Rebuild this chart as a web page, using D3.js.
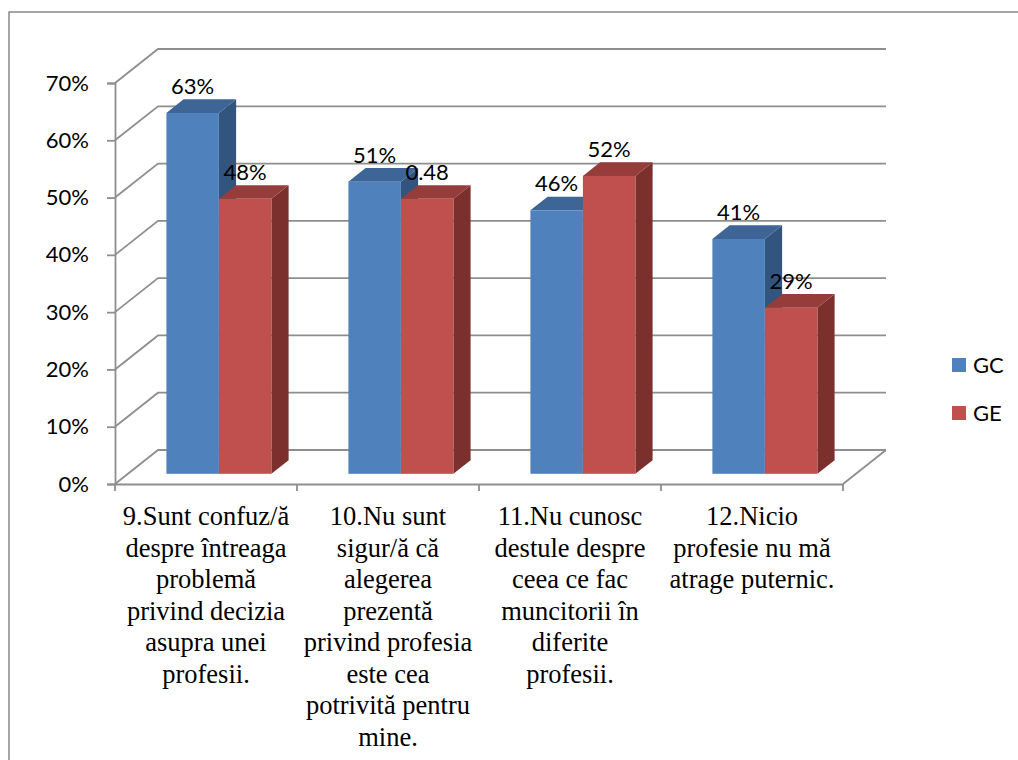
<!DOCTYPE html>
<html>
<head>
<meta charset="utf-8">
<script src="https://cdn.jsdelivr.net/npm/d3@7"></script>
<style>
  body { margin: 0; background: #fff; }
  svg text { fill: #000; }
</style>
</head>
<body>
<div id="chart"></div>
<script>
// data
const categories = ["c9", "c10", "c11", "c12"];
const categoryLines = [
  ["9.Sunt confuz/ă", "despre întreaga", "problemă", "privind decizia", "asupra unei", "profesii."],
  ["10.Nu sunt", "sigur/ă că", "alegerea", "prezentă", "privind profesia", "este cea", "potrivită pentru", "mine."],
  ["11.Nu cunosc", "destule despre", "ceea ce fac", "muncitorii în", "diferite", "profesii."],
  ["12.Nicio", "profesie nu mă", "atrage puternic."]
];
const series = ["GC", "GE"];
const gcValues = [0.63, 0.51, 0.46, 0.41];
const geValues = [0.48, 0.48, 0.52, 0.29];
const gcLabels = ["63%", "51%", "46%", "41%"];
const geLabels = ["48%", "0.48", "52%", "29%"];
const yTicks = [0, 0.1, 0.2, 0.3, 0.4, 0.5, 0.6, 0.7];

const colors = {
  GC: { front: "#4f81bd", top: "#3d6595", side: "#32557f" },
  GE: { front: "#c0504d", top: "#963d3b", side: "#7b302e" }
};

const width = 1018, height = 760;
const depth = { dx: 43, dy: -34 };       // full depth of the 3d box
const barDepth = [0.3, 0.7];             // bars sit in the middle of the depth
const sansFont = "Lato, 'Open Sans', sans-serif";
const serifFont = "'Liberation Serif', 'Times New Roman', serif";

const svg = d3.select("#chart").append("svg")
  .attr("width", width)
  .attr("height", height);

// outer frame
svg.append("rect")
  .attr("x", 9).attr("y", 12)
  .attr("width", width + 20).attr("height", height + 20)
  .attr("fill", "none").attr("stroke", "#888").attr("stroke-width", 1.5);

const x = d3.scaleBand().domain(categories).range([115, 843]).padding(0);
const xs = d3.scaleBand().domain(series).range([-52.5, 52.5]);
const y = d3.scaleLinear().domain([0, 0.7]).range([484, 83]);

const shift = (d) => [depth.dx * d, depth.dy * d];

// gridlines: left wall diagonal + back wall horizontal
const grid = svg.append("g").attr("stroke", "#8e8e8e").attr("stroke-width", 1.8).attr("fill", "none");
const x0 = x.range()[0], x1 = x.range()[1];
const [bdx, bdy] = shift(1);
yTicks.forEach(t => {
  grid.append("path")
    .attr("d", `M${x0},${y(t)} L${x0 + bdx},${y(t) + bdy} L${x1 + bdx},${y(t) + bdy}`);
});
// floor right edge
grid.append("path").attr("d", `M${x1},${y(0)} L${x1 + bdx},${y(0) + bdy}`);

// y axis
const yAxis = svg.append("g")
  .attr("transform", `translate(${x0},0)`)
  .call(d3.axisLeft(y).tickValues(yTicks).tickFormat(d3.format(".0%")).tickSize(8).tickPadding(18));
yAxis.select(".domain").attr("stroke", "#8e8e8e").attr("stroke-width", 1.8);
yAxis.selectAll(".tick line").attr("stroke", "#8e8e8e").attr("stroke-width", 1.8);
yAxis.selectAll(".tick text")
  .attr("font-family", sansFont)
  .attr("font-size", 22).attr("fill", "#000");

// x axis
const xAxis = svg.append("g")
  .attr("transform", `translate(0,${y(0)})`)
  .call(d3.axisBottom(x).tickSize(0).tickFormat(""));
xAxis.select(".domain").attr("stroke", "#8e8e8e").attr("stroke-width", 1.8);
const boundaries = categories.map(c => x(c)).concat([x1]);
xAxis.selectAll(".bound").data(boundaries).enter().append("line")
  .attr("x1", d => d).attr("x2", d => d)
  .attr("y1", 0).attr("y2", 7)
  .attr("stroke", "#8e8e8e").attr("stroke-width", 1.8);

// bars
const bars = [];
categories.forEach((c, i) => {
  bars.push({ cat: c, s: "GC", v: gcValues[i], label: gcLabels[i] });
  bars.push({ cat: c, s: "GE", v: geValues[i], label: geLabels[i] });
});

const [fdx, fdy] = shift(barDepth[0]);
const [kdx, kdy] = shift(barDepth[1]);
const bw = xs.bandwidth();

const barG = svg.append("g");
bars.forEach(b => {
  const left = x(b.cat) + x.bandwidth() / 2 + xs(b.s) + fdx;
  const right = left + bw;
  const top = y(b.v) + fdy;
  const bottom = y(0) + fdy;
  const sdx = kdx - fdx, sdy = kdy - fdy;
  const g = barG.append("g");
  // side
  g.append("path")
    .attr("d", `M${right},${bottom} L${right + sdx},${bottom + sdy} L${right + sdx},${top + sdy} L${right},${top} Z`)
    .attr("fill", colors[b.s].side);
  // top
  g.append("path")
    .attr("d", `M${left},${top} L${left + sdx},${top + sdy} L${right + sdx},${top + sdy} L${right},${top} Z`)
    .attr("fill", colors[b.s].top);
  // front
  g.append("rect")
    .attr("x", left).attr("y", top)
    .attr("width", bw).attr("height", bottom - top)
    .attr("fill", colors[b.s].front);
  // value label
  g.append("text")
    .attr("x", left + bw / 2).attr("y", top - 19)
    .attr("text-anchor", "middle")
    .attr("font-family", sansFont)
    .attr("font-size", 22)
    .text(b.label);
});

// category labels
const catG = svg.append("g");
categories.forEach((c, i) => {
  const cx = x(c) + x.bandwidth() / 2;
  categoryLines[i].forEach((line, j) => {
    catG.append("text")
      .attr("x", cx)
      .attr("y", 525 + j * 31.5)
      .attr("text-anchor", "middle")
      .style("font-family", serifFont)
      .style("font-size", "26.5px")
      .text(line);
  });
});

// legend
const legend = svg.append("g").attr("transform", "translate(952,358)");
series.forEach((s, i) => {
  const row = legend.append("g").attr("transform", `translate(0,${i * 48})`);
  row.append("rect").attr("width", 14).attr("height", 14).attr("fill", colors[s].front);
  row.append("text")
    .attr("x", 21).attr("y", 15)
    .attr("font-family", sansFont)
    .attr("font-size", 22)
    .text(s);
});
</script>
</body>
</html>
